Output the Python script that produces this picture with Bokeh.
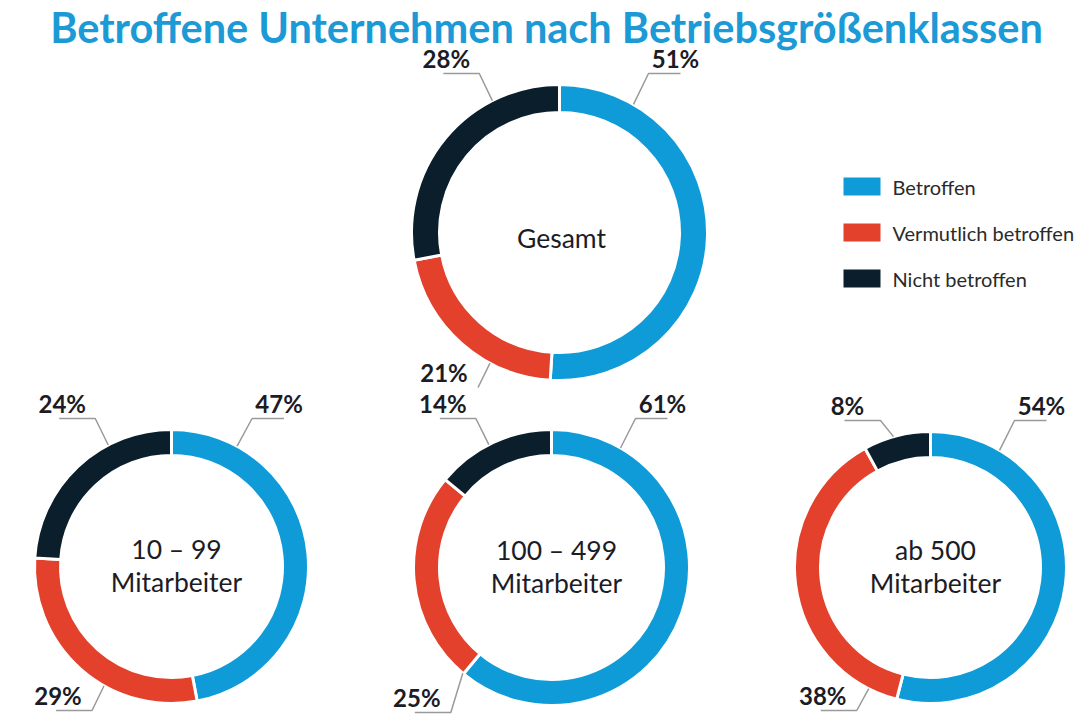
import math
from bokeh.plotting import figure
from bokeh.models import Range1d, ColumnDataSource
from bokeh.core.properties import value
from bokeh.embed import file_html
from bokeh.resources import INLINE

# ---------------- data ----------------
title_text = "Betroffene Unternehmen nach Betriebsgrößenklassen"
categories = ["Betroffen", "Vermutlich betroffen", "Nicht betroffen"]
group_line1 = ["Gesamt", "10 – 99", "100 – 499", "ab 500"]
group_line2 = ["", "Mitarbeiter", "Mitarbeiter", "Mitarbeiter"]
betroffen = [51, 47, 61, 54]
vermutlich = [21, 29, 25, 38]
nicht_betroffen = [28, 24, 14, 8]

# ---------------- style / layout ----------------
W, H = 1080, 720
colors = ["#0f9bd8", "#e3412c", "#0b1e2b"]
text_dark = "#1c1c26"
lead_col = "#9a9a9a"
FONT = "Lato"

# donut geometry (pixel coords, y downwards)
centers = [(559, 232), (171, 566), (551, 567), (930, 567)]
outer_r = [148, 137, 138, 136]
thick = [28, 26, 26, 26]
# anchor angles of label leaders (deg clockwise from 12 o'clock) for [blue, red, black]
anchor_deg = [(30, 208, -27), (28.6, 209.5, -27.5), (30, 220, -27), (30.5, 207, -15.8)]

def Y(py):
    return H - py

p = figure(width=W, height=H, x_range=Range1d(0, W), y_range=Range1d(0, H),
           toolbar_location=None, output_backend="svg",
           x_axis_type=None, y_axis_type=None, min_border=0)
p.outline_line_color = None
p.grid.visible = False
p.background_fill_color = "white"
p.border_fill_color = "white"

# ---------------- wedges ----------------
wx, wy, wi, wo, ws, we, wc = [], [], [], [], [], [], []
for g in range(4):
    vals = [betroffen[g], vermutlich[g], nicht_betroffen[g]]
    tot = sum(vals)
    cum = 0.0
    cx, cy = centers[g]
    for k, v in enumerate(vals):
        a0 = math.pi / 2 - 2 * math.pi * cum / tot
        cum += v
        a1 = math.pi / 2 - 2 * math.pi * cum / tot
        wx.append(cx); wy.append(Y(cy))
        wi.append(outer_r[g] - thick[g]); wo.append(outer_r[g])
        ws.append(a0); we.append(a1); wc.append(colors[k])

src = ColumnDataSource(dict(x=wx, y=wy, ir=wi, orr=wo, sa=ws, ea=we, c=wc))
p.annular_wedge(x="x", y="y", inner_radius="ir", outer_radius="orr",
                start_angle="sa", end_angle="ea", direction="clock",
                fill_color="c", line_color="white", line_width=3, source=src)

# ---------------- leaders & percentage labels ----------------
lx, ly, lt = [], [], []
for g in range(4):
    vals = [betroffen[g], vermutlich[g], nicht_betroffen[g]]
    cx, cy = centers[g]
    r = outer_r[g]
    for k, v in enumerate(vals):
        ang = math.radians(anchor_deg[g][k])
        ax = cx + r * math.sin(ang)
        ay = cy - r * math.cos(ang)
        if k == 0:      # upper right
            ex, ey = ax + 15, cy - r - 11
            hx = ex + 32
            tx = ex + 27
        elif k == 2:    # upper left
            ex, ey = ax - 13, cy - r - 11
            hx = ex - 36
            tx = ex - 33
        else:           # lower left
            ex, ey = ax - 12, cy + r + 7
            hx = ex - 36
            tx = ex - 34
        xs = [ax, ex]
        ys = [Y(ay), Y(ey)]
        if not (g == 0 and k == 1):
            xs.append(hx); ys.append(Y(ey))
        p.line(xs, ys, line_color=lead_col, line_width=1.5)
        lx.append(tx); ly.append(Y(ey - 15)); lt.append(f"{v}%")

p.text(x=lx, y=ly, text=lt, text_font=value(FONT), text_font_style="bold",
       text_font_size="24px", text_color=text_dark,
       text_align="center", text_baseline="middle")

# ---------------- centre labels ----------------
cxs, cys, cts = [], [], []
for g in range(4):
    cx, cy = centers[g]
    if group_line2[g]:
        cxs += [cx + 5, cx + 5]
        cys += [Y(cy - 18), Y(cy + 15)]
        cts += [group_line1[g], group_line2[g]]
    else:
        cxs.append(cx + 2); cys.append(Y(cy + 5)); cts.append(group_line1[g])
p.text(x=cxs, y=cys, text=cts, text_font=value(FONT), text_font_size="26.5px",
       text_color=text_dark, text_align="center", text_baseline="middle")

# ---------------- legend ----------------
leg_y = [186, 232, 278]
p.rect(x=[861.5] * 3, y=[Y(v) for v in leg_y], width=37, height=18,
       fill_color=colors, line_color=None)
p.text(x=[892] * 3, y=[Y(v) for v in leg_y], text=categories,
       text_font=value(FONT), text_font_size="20px", text_color="#2a2a2a",
       text_align="left", text_baseline="middle")

# ---------------- title ----------------
p.text(x=[546], y=[Y(26)], text=[title_text], text_font=value(FONT),
       text_font_style="bold", text_font_size="41.5px", text_color="#1b9ad6",
       text_align="center", text_baseline="middle")

open("out.html", "w").write(file_html(p, INLINE))
